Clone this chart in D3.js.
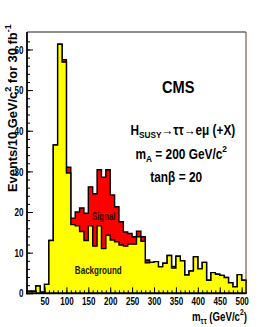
<!DOCTYPE html>
<html>
<head>
<meta charset="utf-8">
<script src="https://cdnjs.cloudflare.com/ajax/libs/d3/7.8.5/d3.min.js"></script>
<style>
  body { margin: 0; background: #fff; }
  text { font-family: "Liberation Sans", Arial, Helvetica, sans-serif; font-weight: bold; }
</style>
</head>
<body>
<script>
// bin lower edges (GeV/c^2), 10 GeV bins
var massBins = [10, 20, 30, 40, 50, 60, 70, 80, 90, 100,
  110, 120, 130, 140, 150, 160, 170, 180, 190, 200,
  210, 220, 230, 240, 250, 260, 270, 280, 290, 300,
  310, 320, 330, 340, 350, 360, 370, 380, 390, 400,
  410, 420, 430, 440, 450, 460, 470, 480, 490, 500];
var binWidth = 10;

// background events per bin
var background = [0.5, 0.5, 1.8, 0.3, 2.2, 13.0, 36.5, 61.3, 56.9, 29.6,
  16.9, 16.6, 15.2, 13.0, 16.6, 11.6, 16.6, 11.0, 14.3, 13.1,
  12.7, 11.9, 11.6, 12.1, 12.1, 13.9, 12.8, 7.5, 7.6, 7.8,
  6.5, 7.4, 9.3, 6.2, 9.1, 8.0, 4.5, 5.5, 9.0, 6.0,
  7.6, 3.2, 5.1, 4.7, 4.4, 3.9, 2.6, 1.6, 4.6, 3.2];

// signal events per bin (stacked on background)
var signal = [0, 0, 0, 0, 0, 0, 0, 0, 0.6, 1.4,
  1.6, 3.4, 5.8, 6.7, 9.6, 12.9, 13.8, 17.6, 16.1, 11.1,
  8.6, 5.7, 3.5, 2.6, 1.8, 1.4, 1.1, 0.7, 0, 0,
  0, 0, 0, 0.4, 0, 0, 0, 0, 0, 0,
  0, 0, 0, 0, 0, 0, 0, 0, 0, 0];

var xMajorTicks = [50, 100, 150, 200, 250, 300, 350, 400, 450, 500];
var yMajorTicks = [0, 10, 20, 30, 40, 50, 60];

var W = 274, H = 327;
var svg = d3.select("body").append("svg")
  .attr("width", W)
  .attr("height", H);

var x = d3.scaleLinear().domain([10, 510]).range([27, 246]);
var y = d3.scaleLinear().domain([0, 64.3]).range([293.3, 32]);

function stepPoints(vals) {
  var pts = massBins.map(function (m, i) { return { m: m, v: vals[i] }; });
  pts.push({ m: massBins[massBins.length - 1] + binWidth, v: vals[vals.length - 1] });
  return pts;
}

var area = d3.area()
  .curve(d3.curveStepAfter)
  .x(function (d) { return x(d.m); })
  .y0(y(0))
  .y1(function (d) { return y(d.v); });

var total = background.map(function (b, i) { return b + signal[i]; });

svg.append("path")
  .attr("d", area(stepPoints(total)))
  .attr("fill", "#ff0000")
  .attr("stroke", "#000")
  .attr("stroke-width", 1.4);

svg.append("path")
  .attr("d", area(stepPoints(background)))
  .attr("fill", "#ffff00")
  .attr("stroke", "#000")
  .attr("stroke-width", 1.4);

// axes, ticks pointing inside
var numScale = 0.7;

svg.append("g")
  .attr("transform", "translate(0," + y(0) + ")")
  .call(d3.axisBottom(x).tickValues(d3.range(20, 511, 10)).tickSize(-3).tickFormat(""))
  .call(function (g) { g.select(".domain").remove(); });

svg.append("g")
  .attr("transform", "translate(0," + y(0) + ")")
  .call(d3.axisBottom(x).tickValues(xMajorTicks).tickSize(-6).tickPadding(4).tickFormat(d3.format("d")))
  .call(function (g) {
    g.select(".domain").remove();
    g.selectAll("text")
      .attr("font-size", 11.5)
      .attr("fill", "#000")
      .attr("transform", "scale(" + numScale + ",1)");
  });

svg.append("g")
  .attr("transform", "translate(" + x(10) + ",0)")
  .call(d3.axisLeft(y).tickValues(d3.range(2, 64, 2)).tickSize(-3).tickFormat(""))
  .call(function (g) { g.select(".domain").remove(); });

svg.append("g")
  .attr("transform", "translate(" + x(10) + ",0)")
  .call(d3.axisLeft(y).tickValues(yMajorTicks).tickSize(-6).tickFormat(d3.format("d")))
  .call(function (g) {
    g.select(".domain").remove();
    g.selectAll("text")
      .attr("font-size", 11.5)
      .attr("fill", "#000")
      .attr("x", -3.5 / numScale)
      .attr("transform", "scale(" + numScale + ",1)");
  });

// frame
svg.append("line").attr("x1", x(10)).attr("x2", x(510)).attr("y1", y(64.3)).attr("y2", y(64.3))
  .attr("stroke", "#222").attr("stroke-width", 1);
svg.append("line").attr("x1", x(510)).attr("x2", x(510)).attr("y1", y(64.3)).attr("y2", y(0))
  .attr("stroke", "#6b3535").attr("stroke-width", 1);
svg.append("line").attr("x1", x(10)).attr("x2", x(10)).attr("y1", y(64.3)).attr("y2", y(0) + 1)
  .attr("stroke", "#000").attr("stroke-width", 1.8);
svg.append("line").attr("x1", x(10) - 1).attr("x2", x(510)).attr("y1", y(0)).attr("y2", y(0))
  .attr("stroke", "#000").attr("stroke-width", 1.8);

// text helper: parts = [[str, shift]], shift 1 = sup, -1 = sub
function note(parts, px, py, size, width, anchor, color, rot) {
  var g = svg.append("g");
  var t = g.append("text")
    .attr("font-size", size)
    .attr("fill", color || "#000")
    .attr("text-anchor", anchor);
  var cur = 0;
  parts.forEach(function (p) {
    var shift = p[1] || 0;
    var off = shift === 1 ? -0.45 * size : shift === -1 ? 0.25 * size : 0;
    t.append("tspan")
      .attr("dy", off - cur)
      .attr("font-size", shift ? size * 0.7 : size)
      .text(p[0]);
    cur = off;
  });
  var w = t.node().getBBox().width;
  var s = width / w;
  g.attr("transform", "translate(" + px + "," + py + ")" + (rot ? " rotate(" + rot + ")" : "") + " scale(" + s + ",1)");
  return g;
}

note([["CMS"]], 178.3, 93.3, 17, 32.5, "middle");
note([["H"], ["SUSY", -1], ["\u2192\u03c4\u03c4\u2192e\u03bc (+X)"]], 182.8, 134.5, 14, 105, "middle");
note([["m"], ["A", -1], [" = 200 GeV/c"], ["2", 1]], 181.2, 158.5, 14, 92, "middle");
note([["tan\u03b2 = 20"]], 176.2, 181.5, 14, 52, "middle");
note([["Signal"]], 103.7, 219.5, 11.5, 23.5, "middle", "#3a0000");
note([["Background"]], 98.3, 273.5, 11.5, 47, "middle", "#1a1a00");

note([["Events/10 GeV/c"], ["2", 1], [" for 30 fb"], ["-1", 1]], 16.5, 192, 12.5, 168, "start", "#000", -90);
note([["m"], ["\u03c4\u03c4", -1], [" (GeV/c"], ["2", 1], [")"]], 247, 320.5, 12, 55, "end");
</script>
</body>
</html>
